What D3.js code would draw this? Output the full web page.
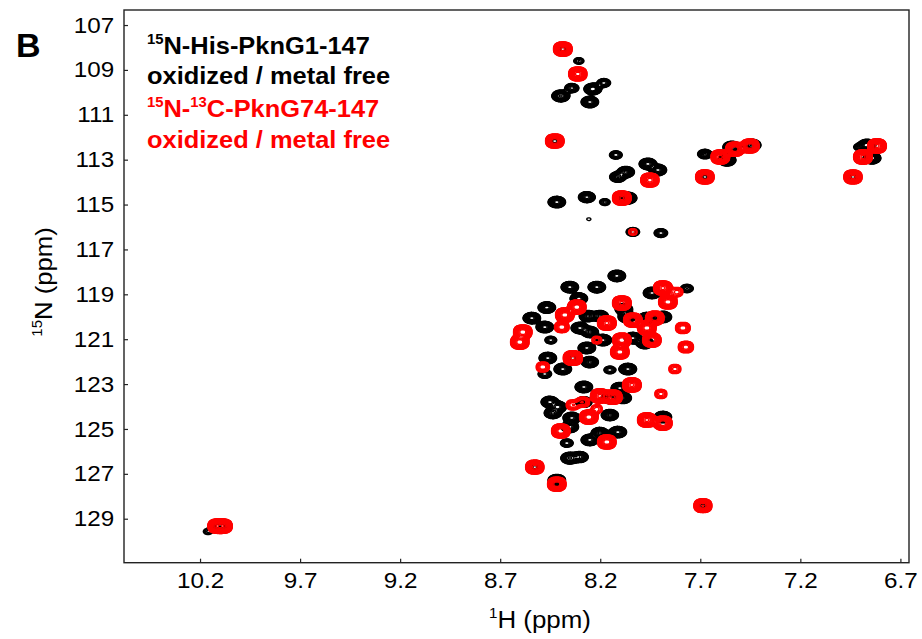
<!DOCTYPE html>
<html><head><meta charset="utf-8">
<script src="https://cdn.jsdelivr.net/npm/d3@7"></script>
<style>
body{margin:0;background:#fff}
svg{display:block}
text{font-family:"Liberation Sans",Arial,sans-serif}
</style>
</head><body>
<svg id="chart" width="922" height="639"></svg>
<script>
// ---------------- data (ppm) ----------------
const xTicks = [10.2, 9.7, 9.2, 8.7, 8.2, 7.7, 7.2, 6.7];
const yTicks = [107, 109, 111, 113, 115, 117, 119, 121, 123, 125, 127, 129];
const xDomain = [10.58, 6.657];   // 1H (ppm)
const yDomain = [106.33, 130.96]; // 15N (ppm)

// [1H ppm, 15N ppm, relative intensity]
const blackPeaks = [
  [8.387,108.07,1.0],[8.307,108.60,0.14],[8.397,110.16,1.2],[8.342,109.81,0.35],
  [8.237,109.85,1.1],[8.182,109.58,0.3],[8.252,110.43,1.0],[8.427,112.17,1.0],
  [8.122,112.79,0.25],[7.962,113.19,1.0],[7.912,113.46,1.0],[8.072,113.55,0.9],
  [8.112,113.77,0.7],[7.677,112.75,0.4],[7.542,112.44,1.2],[7.442,112.35,1.2],
  [7.567,113.02,1.2],[6.867,112.35,1.1],[6.842,112.93,1.1],[6.907,112.44,0.15],
  [8.417,114.89,1.0],[8.267,114.67,0.8],[8.177,114.89,0.15],[8.062,114.71,1.2],
  [8.257,115.65,0.06],[8.037,116.22,0.3],[7.897,116.27,0.3],[7.677,113.77,0.8],
  [6.937,113.77,0.8],[8.117,118.18,1.0],[8.352,118.68,1.0],[8.217,118.68,1.0],
  [7.767,118.74,0.25],[7.941,118.94,1.0],[8.307,119.19,1.0],[8.467,119.59,1.0],
  [8.082,119.66,1.0],[8.262,119.97,0.9],[8.202,119.97,0.9],[8.542,120.06,1.0],
  [8.067,120.01,1.0],[7.967,120.06,1.0],[7.887,120.01,1.0],[8.477,120.46,1.0],
  [8.302,120.50,1.0],[8.252,120.68,0.9],[8.187,121.04,1.0],[8.447,121.04,0.2],
  [8.037,120.95,1.0],[7.977,121.17,1.0],[8.267,121.39,1.0],[8.462,121.84,1.0],
  [8.252,122.02,0.9],[8.477,122.55,0.3],[8.387,122.33,1.0],[8.152,122.37,0.2],
  [8.062,122.33,1.0],[8.102,123.18,1.0],[8.282,123.13,1.0],[8.152,123.62,1.0],
  [8.087,123.62,0.9],[8.452,123.80,1.0],[8.412,124.02,1.0],[8.437,124.29,0.9],
  [8.342,124.51,1.0],[8.282,123.80,0.7],[8.152,124.38,0.9],[7.887,124.47,1.0],
  [8.352,124.91,1.0],[8.252,125.49,1.0],[8.202,125.18,0.9],[8.112,125.14,1.0],
  [8.367,125.63,0.25],[8.352,126.30,1.2],[8.302,126.25,0.8],[8.417,127.28,1.0],
  [8.337,121.84,1.0],[10.115,129.33,0.8],[10.085,129.33,0.8],[10.16,129.57,0.12],
  [7.687,128.42,0.8],[8.527,126.70,0.8]
];
const redPeaks = [
  [8.387,108.07,1.3],[8.312,109.18,1.1],[8.427,112.17,1.2],[7.952,113.91,1.1],
  [7.677,113.77,1.2],[7.600,112.88,1.3],[7.527,112.53,1.2],[7.452,112.39,1.2],
  [6.817,112.39,1.3],[6.887,112.88,1.3],[6.937,113.77,1.1],[8.092,114.71,1.3],
  [8.037,116.22,0.08],[7.887,118.72,1.3],[7.817,118.90,0.15],[7.862,119.34,1.2],
  [8.092,119.39,1.3],[8.377,119.92,1.2],[8.317,119.57,1.2],[8.167,120.28,1.3],
  [8.037,120.15,1.2],[7.927,120.06,1.2],[7.967,120.50,1.2],[7.942,121.04,1.2],
  [8.392,120.46,0.3],[8.587,120.68,1.2],[8.602,121.13,1.2],[8.217,121.04,0.1],
  [8.092,121.04,1.2],[8.102,121.57,1.2],[7.787,120.50,0.3],[7.772,121.35,0.35],
  [8.337,121.84,1.6],[8.487,122.24,0.2],[7.827,122.33,0.15],[8.042,123.04,1.3],
  [8.202,123.53,1.3],[8.137,123.58,1.3],[7.897,123.44,0.15],[8.337,123.93,0.2],
  [8.287,123.80,0.2],[8.217,124.11,0.12],[8.257,124.47,1.2],[7.967,124.60,1.3],
  [7.887,124.74,1.2],[8.397,125.09,1.2],[8.167,125.58,1.2],[8.527,126.70,1.1],
  [8.417,127.46,1.2],[10.115,129.33,1.2],[10.085,129.33,1.2],[7.687,128.42,1.0]
];

// ---------------- layout ----------------
const svg = d3.select("#chart");
const X0 = 124, X1 = 909, Y0 = 10, Y1 = 562.7;
const x = d3.scaleLinear().domain(xDomain).range([X0, X1]);
const y = d3.scaleLinear().domain(yDomain).range([Y0, Y1]);
const GW = Math.round(X1 - X0), GH = Math.round(Y1 - Y0);

svg.append("defs").append("clipPath").attr("id","plotclip")
  .append("rect").attr("x",X0).attr("y",Y0).attr("width",X1-X0).attr("height",Y1-Y0);

function field(peaks, wH, wN, p){
  const v = new Float64Array(GW*GH);
  for (const [h,n,a] of peaks){
    const cx = x(h)-X0, cy = y(n)-Y0;
    const sx = Math.abs(x(h+wH)-x(h)), sy = Math.abs(y(n+wN)-y(n));
    const i0 = Math.max(0,Math.floor(cx-5*sx)), i1 = Math.min(GW-1,Math.ceil(cx+5*sx));
    const j0 = Math.max(0,Math.floor(cy-5*sy)), j1 = Math.min(GH-1,Math.ceil(cy+5*sy));
    for (let j=j0;j<=j1;j++){
      const w = Math.pow(Math.abs((j+0.5-cy)/sy),p);
      for (let i=i0;i<=i1;i++){
        const u = Math.pow(Math.abs((i+0.5-cx)/sx),p);
        v[j*GW+i] += a*Math.exp(-(u+w)/2);
      }
    }
  }
  return v;
}

function drawSeries(peaks, color, wH, wN, p, levels, sw){
  const vals = field(peaks, wH, wN, p);
  const cs = d3.contours().size([GW,GH]).thresholds(levels)(vals);
  svg.append("g").attr("clip-path","url(#plotclip)")
    .append("g").attr("transform",`translate(${X0},${Y0})`)
    .selectAll("path").data(cs).join("path")
    .attr("d", d3.geoPath())
    .attr("fill","none").attr("stroke",color).attr("stroke-width",sw);
}

const blackLevels = d3.range(15).map(k=>0.05*Math.pow(1.22,k)).concat([1.1]);
const redLevels = d3.range(19).map(k=>0.05*Math.pow(1.22,k));
drawSeries(blackPeaks, "#000000", 0.018, 0.105, 2, blackLevels, 1.3);
drawSeries(redPeaks, "#ff0000", 0.022, 0.15, 2.5, redLevels, 1.4);

// ---------------- axes ----------------
const sx = 1.1;
const xAxis = d3.axisBottom(x).tickValues(xTicks).tickFormat(d3.format(".1f"))
  .tickSizeInner(-4).tickSizeOuter(0).tickPadding(10);
const gx = svg.append("g").attr("transform",`translate(0,${Y1})`).call(xAxis);
const yAxis = d3.axisLeft(y).tickValues(yTicks).tickFormat(d3.format("d"))
  .tickSizeInner(-4).tickSizeOuter(0).tickPadding(9);
const gy = svg.append("g").attr("transform",`translate(${X0},0)`).call(yAxis);
[gx,gy].forEach(g=>{
  g.select(".domain").remove();
  g.selectAll(".tick line").attr("stroke","#222").attr("stroke-width",1.2);
  g.selectAll(".tick text").attr("font-size",22).attr("fill","#000")
    .attr("font-family","'Liberation Sans',Arial,sans-serif")
    .attr("transform",`scale(${sx},1)`);
});
// frame
svg.append("rect").attr("x",X0).attr("y",Y0).attr("width",X1-X0).attr("height",Y1-Y0)
  .attr("fill","none").attr("stroke","#222").attr("stroke-width",1.4);

// axis titles
const xt = svg.append("text").attr("transform",`translate(540,628) scale(1.08,1)`)
  .attr("text-anchor","middle").attr("font-size",24);
xt.append("tspan").attr("font-size",14).attr("dy",-10).text("1");
xt.append("tspan").attr("dy",10).text("H (ppm)");

const yt = svg.append("text").attr("transform",`translate(52,282) rotate(-90) scale(1.07,1)`)
  .attr("text-anchor","middle").attr("font-size",24);
yt.append("tspan").attr("font-size",14).attr("dy",-10).text("15");
yt.append("tspan").attr("dy",10).text("N (ppm)");

// panel letter
svg.append("text").attr("x",16).attr("y",57).attr("font-size",34).attr("font-weight","bold").text("B");

// legend
const legendLines = [
  {sup:"15", parts:["N-His-PknG1-147"], color:"#000", y:54},
  {parts:["oxidized / metal free"], color:"#000", y:84},
  {sup:"15", parts:["N-"], sup2:"13", parts2:["C-PknG74-147"], color:"#ff0000", y:117},
  {parts:["oxidized / metal free"], color:"#ff0000", y:148}
];
legendLines.forEach(l=>{
  const t = svg.append("text").attr("transform",`translate(147,${l.y}) scale(1.06,1)`)
    .attr("font-size",24).attr("font-weight","bold").attr("fill",l.color);
  if (l.sup){ t.append("tspan").attr("font-size",14).attr("dy",-10).text(l.sup);
              t.append("tspan").attr("dy",10).text(l.parts[0]); }
  else t.append("tspan").text(l.parts[0]);
  if (l.sup2){ t.append("tspan").attr("font-size",14).attr("dy",-10).text(l.sup2);
               t.append("tspan").attr("dy",10).text(l.parts2[0]); }
});
</script>
</body></html>
